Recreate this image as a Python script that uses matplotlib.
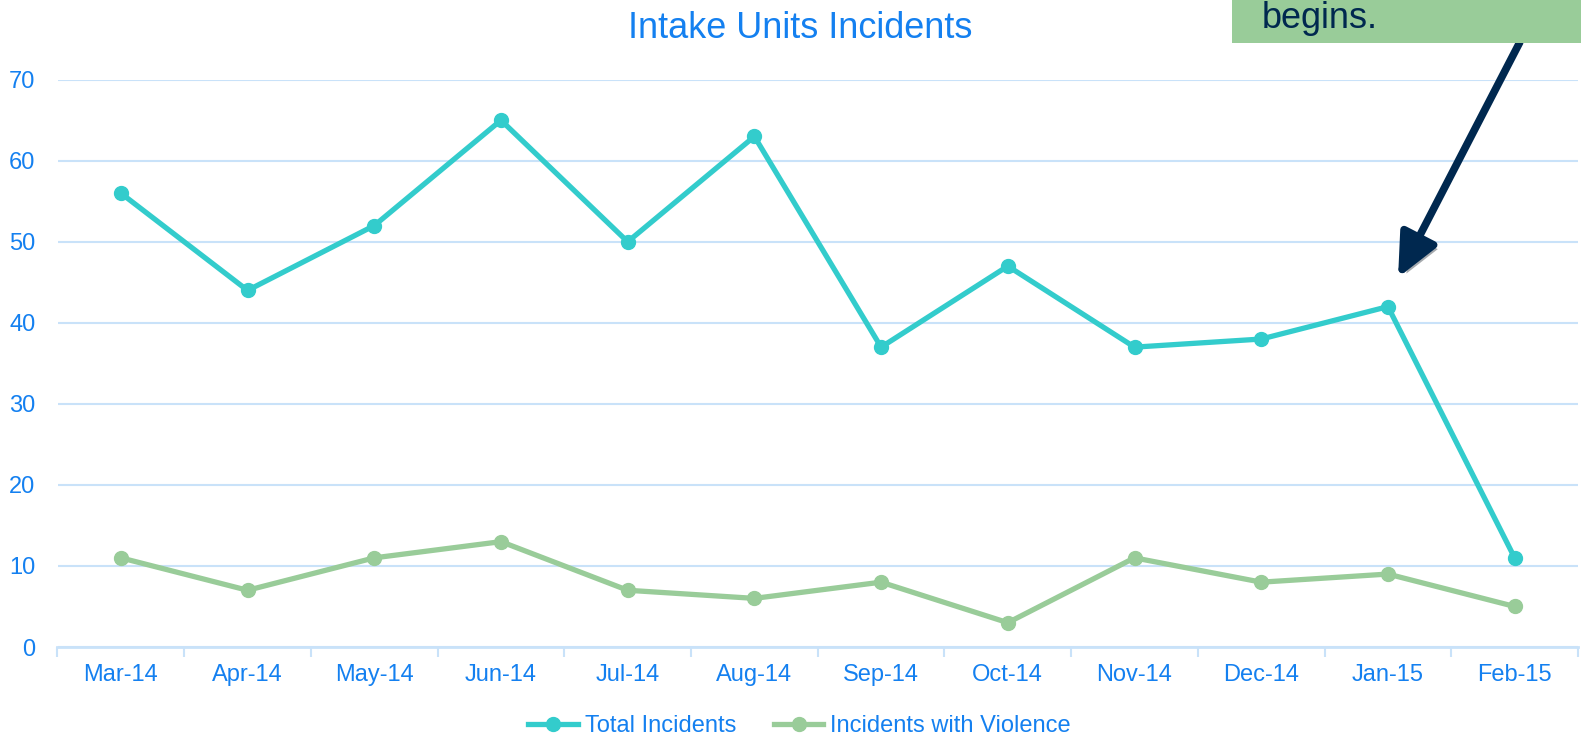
import matplotlib
matplotlib.use("Agg")
from matplotlib import pyplot as plt
from matplotlib.patches import Rectangle
import matplotlib.patheffects as pe

plt.rcParams['font.family'] = ['Liberation Sans', 'DejaVu Sans']

months = ["Mar-14", "Apr-14", "May-14", "Jun-14", "Jul-14", "Aug-14",
          "Sep-14", "Oct-14", "Nov-14", "Dec-14", "Jan-15", "Feb-15"]
total = [56, 44, 52, 65, 50, 63, 37, 47, 37, 38, 42, 11]
violence = [11, 7, 11, 13, 7, 6, 8, 3, 11, 8, 9, 5]

blue = "#1480f0"
teal = "#33cccc"
green = "#99cc99"
grid_c = "#c9e2f9"
navy = "#00284f"

W, H = 1581, 740
fig = plt.figure(figsize=(W / 100, H / 100), dpi=100)
ax = fig.add_axes([57.5 / W, 1 - 647 / H, (1578 - 57.5) / W, (647 - 79.7) / H])

xs = list(range(len(months)))
ax.plot(xs, total, color=teal, lw=3.8, marker="o", ms=10, label="Total Incidents", zorder=3)
ax.plot(xs, violence, color=green, lw=3.8, marker="o", ms=10, label="Incidents with Violence", zorder=3)

ax.set_xlim(-0.5, 11.5)
ax.set_ylim(0, 70)
ax.set_yticks(range(0, 71, 10))
ax.set_xticks(xs)
ax.set_xticklabels(months)
ax.set_xticks([i - 0.5 for i in range(13)], minor=True)
ax.tick_params(axis="x", which="major", length=0, pad=12, labelsize=17, labelcolor=blue)
ax.tick_params(axis="x", which="minor", length=7, width=1.5, color=grid_c, direction="out")
ax.tick_params(axis="y", length=0, pad=16, labelsize=17, labelcolor=blue)
ax.grid(axis="y", color=grid_c, lw=1.5)
ax.set_axisbelow(True)
for s in ["top", "right", "left"]:
    ax.spines[s].set_visible(False)
ax.spines["bottom"].set_color(grid_c)
ax.spines["bottom"].set_linewidth(2)

fig.text(0.506, 1 - 38.4 / H, "Intake Units Incidents", color=blue, fontsize=26,
         ha="center", va="baseline")

# legend centred below the axes (axes coordinates)
leg = ax.legend(loc="center", bbox_to_anchor=(0.488, -0.139), ncol=2, frameon=False,
                borderaxespad=0, borderpad=0.1, fontsize=17, handlelength=2.1,
                handletextpad=0.3, columnspacing=1.6)
for t in leg.get_texts():
    t.set_color(blue)

# callout box (cut off at top of the slide)
fig.add_artist(Rectangle((1232 / W, 1 - 43.4 / H), (W - 1232) / W, 43.4 / H,
                         transform=fig.transFigure, facecolor=green, edgecolor="none",
                         zorder=1))
fig.text(1262 / W, 1 - 27.5 / H, "begins.", color=navy, fontsize=26, va="baseline", zorder=2)

ax.annotate("", xy=(10.08, 45.6), xytext=(11.04, 74.6), annotation_clip=False,
            arrowprops=dict(arrowstyle="-|>,head_length=2.6,head_width=1.2", color=navy, lw=5.5,
                            shrinkA=0, shrinkB=0,
                            path_effects=[pe.SimplePatchShadow(offset=(3, -3), alpha=0.35), pe.Normal()]))

fig.savefig("out.png", dpi=100)
